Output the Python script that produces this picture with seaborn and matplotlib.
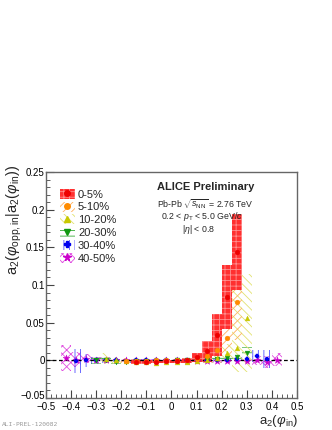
import numpy as np
import pandas as pd
import matplotlib
matplotlib.use("Agg")
import matplotlib.pyplot as plt
import matplotlib.transforms as mtransforms
import seaborn as sns
from matplotlib.patches import Patch
from matplotlib.lines import Line2D

# ---- data ----
labels = ["0-5%", "5-10%", "10-20%", "20-30%", "30-40%", "40-50%"]

x_05 = [-0.14, -0.10, -0.06, -0.02, 0.02, 0.06, 0.10, 0.14, 0.18, 0.22, 0.26]
y_05 = [-0.002, -0.002, -0.002, -0.001, -0.001, 0.000, 0.004, 0.012, 0.034, 0.084, 0.144]
lo_05 = [0.003, 0.003, 0.002, 0.002, 0.002, 0.003, 0.006, 0.014, 0.028, 0.042, 0.050]
hi_05 = [0.003, 0.003, 0.002, 0.002, 0.002, 0.003, 0.006, 0.014, 0.028, 0.042, 0.050]

x_510 = [-0.18, -0.14, -0.10, -0.06, -0.02, 0.02, 0.06, 0.10, 0.14, 0.18, 0.22, 0.26]
y_510 = [-0.001, -0.001, -0.001, 0.000, 0.000, 0.000, 0.001, 0.002, 0.006, 0.014, 0.030, 0.077]
lo_510 = [0.004, 0.003, 0.002, 0.002, 0.002, 0.002, 0.002, 0.003, 0.006, 0.012, 0.022, 0.050]
hi_510 = [0.004, 0.003, 0.002, 0.002, 0.002, 0.002, 0.002, 0.003, 0.006, 0.012, 0.022, 0.050]

x_1020 = [-0.26, -0.22, -0.18, -0.14, -0.10, -0.06, -0.02, 0.02, 0.06, 0.10, 0.14, 0.18, 0.22, 0.26, 0.30]
y_1020 = [0.002, 0.000, -0.001, -0.002, -0.002, -0.003, -0.002, -0.002, -0.002, -0.001, 0.001, 0.003, 0.010, 0.017, 0.056]
lo_1020 = [0.007, 0.005, 0.003, 0.003, 0.002, 0.002, 0.002, 0.002, 0.002, 0.003, 0.004, 0.006, 0.012, 0.033, 0.072]
hi_1020 = [0.008, 0.005, 0.003, 0.003, 0.002, 0.002, 0.002, 0.002, 0.002, 0.003, 0.004, 0.006, 0.012, 0.098, 0.059]

x_2030 = [-0.30, -0.26, -0.22, -0.18, -0.14, -0.10, -0.06, -0.02, 0.02, 0.06, 0.10, 0.14, 0.18, 0.22, 0.26, 0.30]
y_2030 = [0.001, 0.000, -0.002, -0.002, -0.001, -0.001, -0.001, -0.001, 0.000, 0.000, 0.000, 0.001, 0.002, 0.003, 0.004, 0.010]
lo_2030 = [0.006, 0.004, 0.003, 0.002, 0.002, 0.002, 0.002, 0.002, 0.002, 0.002, 0.002, 0.002, 0.003, 0.003, 0.004, 0.003]
hi_2030 = [0.006, 0.004, 0.003, 0.002, 0.002, 0.002, 0.002, 0.002, 0.002, 0.002, 0.002, 0.002, 0.003, 0.003, 0.004, 0.008]

x_3040 = [-0.38, -0.34, -0.30, -0.26, -0.22, -0.18, -0.14, -0.10, -0.06, -0.02,
          0.02, 0.06, 0.10, 0.14, 0.18, 0.22, 0.26, 0.30, 0.34, 0.38]
y_3040 = [-0.001, 0.000, 0.000, 0.000, 0.000, -0.001, 0.000, 0.000, 0.000, 0.000,
          0.000, 0.000, 0.000, 0.000, 0.001, 0.001, 0.002, 0.002, 0.006, 0.002]
lo_3040 = [0.016, 0.009, 0.005, 0.003, 0.002, 0.002, 0.002, 0.002, 0.002, 0.002,
           0.002, 0.002, 0.002, 0.002, 0.002, 0.002, 0.003, 0.004, 0.008, 0.012]
hi_3040 = [0.016, 0.009, 0.005, 0.003, 0.002, 0.002, 0.002, 0.002, 0.002, 0.002,
           0.002, 0.002, 0.002, 0.002, 0.002, 0.002, 0.003, 0.004, 0.008, 0.012]

x_4050 = [-0.42, -0.38, -0.34, -0.30, -0.26, -0.22, -0.18, -0.14, -0.10, -0.06, -0.02,
          0.02, 0.06, 0.10, 0.14, 0.18, 0.22, 0.26, 0.30, 0.34, 0.38, 0.42]
y_4050 = [0.003, 0.001, 0.002, 0.001, 0.001, 0.001, 0.000, 0.000, 0.000, 0.000, 0.000,
          0.000, -0.001, -0.001, -0.001, -0.001, -0.001, -0.001, -0.001, 0.000, -0.002, 0.001]
lo_4050 = [0.017, 0.010, 0.006, 0.004, 0.003, 0.002, 0.002, 0.002, 0.002, 0.002, 0.002,
           0.002, 0.002, 0.002, 0.002, 0.002, 0.002, 0.002, 0.003, 0.006, 0.008, 0.009]
hi_4050 = [0.017, 0.010, 0.006, 0.004, 0.003, 0.002, 0.002, 0.002, 0.002, 0.002, 0.002,
           0.002, 0.002, 0.002, 0.002, 0.002, 0.002, 0.002, 0.003, 0.006, 0.008, 0.009]

bin_width = 0.04

series = [
    (labels[0], x_05, y_05, lo_05, hi_05),
    (labels[1], x_510, y_510, lo_510, hi_510),
    (labels[2], x_1020, y_1020, lo_1020, hi_1020),
    (labels[3], x_2030, y_2030, lo_2030, hi_2030),
    (labels[4], x_3040, y_3040, lo_3040, hi_3040),
    (labels[5], x_4050, y_4050, lo_4050, hi_4050),
]

# style per centrality: marker colour, marker, box face, hatch colour, hatch
styles = {
    "0-5%":   dict(color="#ee0000", marker="o", face="#ff3030", hcol="#ff9090", hatch="+++"),
    "5-10%":  dict(color="#ff8c00", marker="o", face="none", hcol="#ffb060", hatch="////"),
    "10-20%": dict(color="#c8c800", marker="^", face="none", hcol="#e2e270", hatch="\\\\\\\\"),
    "20-30%": dict(color="#119911", marker="v", face="none", hcol="#33aa33", hatch="---"),
    "30-40%": dict(color="#0000ee", marker="P", face="none", hcol="#5050ff", hatch="|||"),
    "40-50%": dict(color="#cc00cc", marker="*", face="none", hcol="#e050e0", hatch="xxxx"),
}

sns.set_style("ticks")
plt.rcParams["font.family"] = ["Liberation Sans", "DejaVu Sans"]
plt.rcParams["mathtext.fontset"] = "custom"
plt.rcParams["mathtext.rm"] = "Liberation Sans"
plt.rcParams["mathtext.it"] = "Liberation Sans:italic"
plt.rcParams["hatch.linewidth"] = 0.6

fig = plt.figure(figsize=(3.32, 4.30), dpi=100)
ax = fig.add_axes([46 / 332, 1 - 398 / 430, (297 - 46) / 332, (398 - 172) / 430])

# systematic boxes, drawn from peripheral to central so red ends on top
for name, xs, ys, lo, hi in series[::-1]:
    st = styles[name]
    ys = np.array(ys)
    bottom = ys - np.array(lo)
    height = np.array(lo) + np.array(hi)
    ax.bar(xs, height, bottom=bottom, width=bin_width, color=st["face"],
           edgecolor=st["hcol"], hatch=st["hatch"], linewidth=0, zorder=2)

ax.axhline(0, color="black", ls=(0, (3, 2)), lw=0.9, zorder=3)

for name, xs, ys, lo, hi in series[::-1]:
    st = styles[name]
    df = pd.DataFrame({"x": xs, "y": ys})
    sns.scatterplot(data=df, x="x", y="y", ax=ax, marker=st["marker"],
                    color=st["color"], s=12 if st["marker"] != "*" else 26,
                    edgecolor=st["color"], linewidth=0.3, zorder=4, legend=False)

ax.set_xlim(-0.5, 0.5)
ax.set_ylim(-0.05, 0.25)
ax.set_xticks(np.arange(-0.5, 0.51, 0.1))
ax.set_xticklabels(["\u22120.5", "\u22120.4", "\u22120.3", "\u22120.2", "\u22120.1", "0",
                    "0.1", "0.2", "0.3", "0.4", "0.5"])
ax.set_xticks(np.arange(-0.5, 0.51, 0.02), minor=True)
ax.set_yticks(np.arange(-0.05, 0.251, 0.05))
ax.set_yticklabels(["\u22120.05", "0", "0.05", "0.1", "0.15", "0.2", "0.25"])
ax.set_yticks(np.arange(-0.05, 0.251, 0.01), minor=True)
ax.tick_params(which="both", direction="in", labelsize=7, colors="#444444",
               labelcolor="black", top=False, right=False)
ax.tick_params(axis="x", pad=3)
ax.tick_params(axis="y", pad=1)
ax.tick_params(which="major", length=6, width=0.8)
ax.tick_params(which="minor", length=3, width=0.6)
for sp in ax.spines.values():
    sp.set_color("#666666")
    sp.set_linewidth(1.0)
ax.set_xlabel("")
ax.set_ylabel("")

# nudge the lowest y label up a little so it clears the first x label
lowest = ax.get_yticklabels()[0]
lowest.set_transform(lowest.get_transform() +
                     mtransforms.ScaledTranslation(0, 2.5 / 72, fig.dpi_scale_trans))

fig.text(14 / 332, 1 - 164 / 430,
         r"a$_{2}$($\varphi_{\mathrm{opp,in}}$|a$_{2}$($\varphi_{\mathrm{in}}$))",
         rotation=90, ha="center", va="top", fontsize=10.5)
fig.text(298 / 332, 1 - 421 / 430, r"a$_{2}$($\varphi_{\mathrm{in}}$)",
         ha="right", va="center", fontsize=9.5)

ax.text(157 / 332, 1 - 187 / 430, "ALICE Preliminary", transform=fig.transFigure,
        fontsize=8, fontweight="bold", va="center")
ax.text(157 / 332, 1 - 204 / 430, r"Pb-Pb $\sqrt{s_{\mathrm{NN}}}$ = 2.76 TeV",
        transform=fig.transFigure, fontsize=6.3, va="center")
ax.text(161 / 332, 1 - 216 / 430, r"0.2 < $p_{\mathrm{T}}$ < 5.0 GeV/$c$",
        transform=fig.transFigure, fontsize=6.3, va="center")
ax.text(182 / 332, 1 - 229 / 430, r"|$\eta$| < 0.8",
        transform=fig.transFigure, fontsize=6.3, va="center")

handles = []
for name in labels:
    st = styles[name]
    box = Patch(facecolor=st["face"], edgecolor=st["hcol"], hatch=st["hatch"], linewidth=0)
    mk = Line2D([], [], ls="none", marker=st["marker"], color=st["color"],
                markersize=4 if st["marker"] != "*" else 5.5)
    handles.append((box, mk))
ax.legend(handles, labels, loc="upper left", bbox_to_anchor=(0.03, 0.955),
          frameon=False, fontsize=8, handlelength=1.3, handleheight=1.0,
          handletextpad=0.3, labelspacing=0.18, borderaxespad=0.2)

fig.text(2 / 332, 1 - 425 / 430, "ALI-PREL-120082", fontsize=4.5,
         family="DejaVu Sans Mono", color="#999999", va="center")

fig.savefig("out.png", dpi=100)
